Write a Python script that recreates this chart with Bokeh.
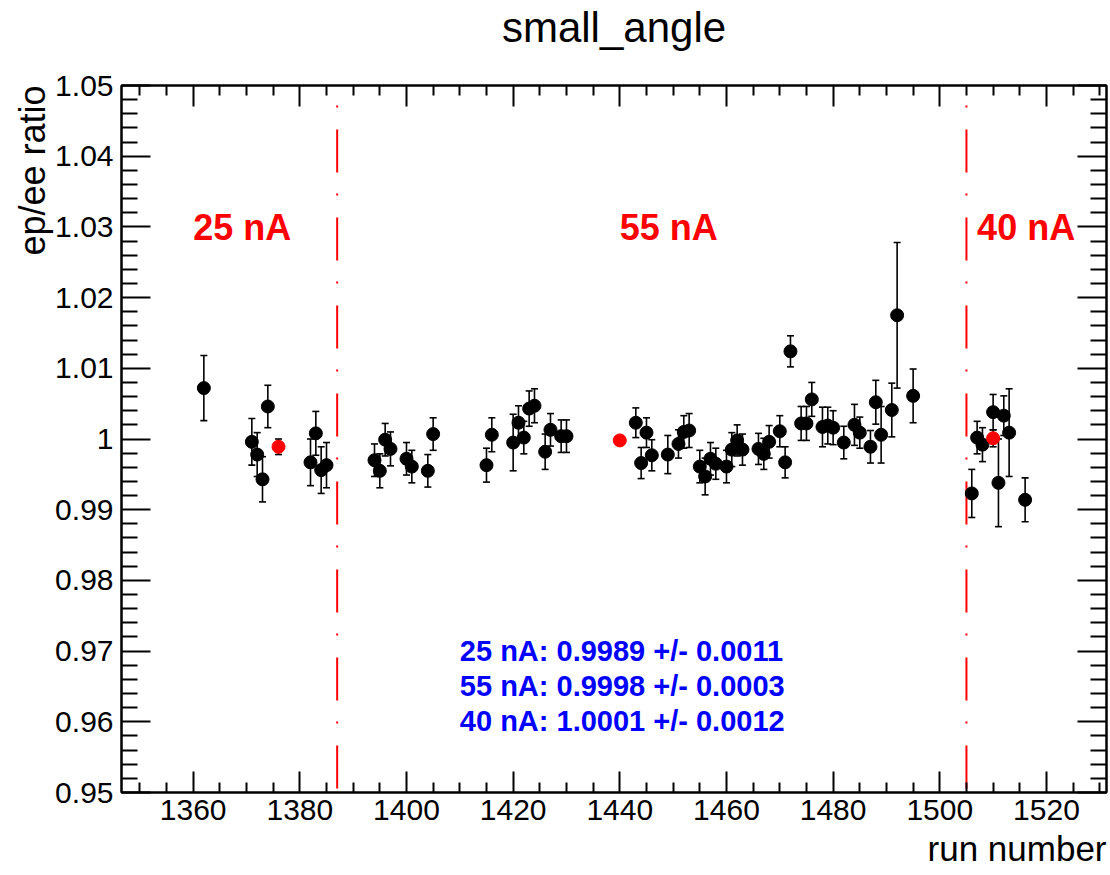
import numpy as np
from bokeh.plotting import figure
from bokeh.models import (Range1d, FixedTicker, LinearAxis, Label, Title,
                          CustomJSTickFormatter, ColumnDataSource)
from bokeh.embed import file_html
from bokeh.resources import INLINE

# ---------------- data ----------------
runs = [1362, 1371, 1372, 1373, 1374, 1382, 1383, 1384, 1385,
        1394, 1395, 1396, 1397, 1400, 1401, 1404, 1405,
        1415, 1416, 1420, 1421, 1422, 1423, 1424, 1426, 1427, 1429, 1430,
        1443, 1444, 1445, 1446, 1449, 1451, 1452, 1453, 1455, 1456, 1457, 1458,
        1460, 1461, 1462, 1463, 1466, 1467, 1468, 1470, 1471, 1472, 1474, 1475,
        1476, 1478, 1479, 1480, 1482, 1484, 1485, 1487, 1488, 1489, 1491, 1492,
        1495, 1506, 1507, 1508, 1510, 1511, 1512, 1513, 1516]
ratio = [1.0072, 0.9996, 0.9978, 0.9943, 1.0046, 0.9967, 1.0008, 0.9956, 0.9963,
         0.9970, 0.9955, 0.9999, 0.9986, 0.9972, 0.9961, 0.9955, 1.0007,
         0.9963, 1.0006, 0.9995, 1.0023, 1.0002, 1.0043, 1.0047, 0.9982, 1.0013, 1.0004, 1.0004,
         1.0023, 0.9966, 1.0009, 0.9977, 0.9978, 0.9993, 1.0010, 1.0012, 0.9961, 0.9947, 0.9972, 0.9965,
         0.9961, 0.9985, 0.9998, 0.9985, 0.9986, 0.9979, 0.9996, 1.0011, 0.9967, 1.0124, 1.0022, 1.0022,
         1.0056, 1.0017, 1.0019, 1.0016, 0.9995, 1.0020, 1.0009, 0.9989, 1.0052, 1.0006, 1.0041, 1.0175,
         1.0061, 0.9923, 1.0002, 0.9992, 1.0038, 0.9938, 1.0033, 1.0009, 0.9914]
ratio_err = [0.0046, 0.0033, 0.0031, 0.0032, 0.0030, 0.0033, 0.0031, 0.0033, 0.0032,
             0.0023, 0.0024, 0.0023, 0.0024, 0.0023, 0.0023, 0.0023, 0.0023,
             0.0024, 0.0024, 0.0040, 0.0024, 0.0023, 0.0025, 0.0024, 0.0025, 0.0023, 0.0023, 0.0023,
             0.0021, 0.0022, 0.0021, 0.0022, 0.0027, 0.0020, 0.0023, 0.0024, 0.0023, 0.0026, 0.0023, 0.0022,
             0.0023, 0.0024, 0.0022, 0.0022, 0.0022, 0.0022, 0.0023, 0.0022, 0.0022, 0.0022, 0.0024, 0.0024,
             0.0024, 0.0028, 0.0026, 0.0024, 0.0023, 0.0029, 0.0022, 0.0023, 0.0031, 0.0040, 0.0038, 0.0103,
             0.0038, 0.0034, 0.0023, 0.0024, 0.0025, 0.0062, 0.0028, 0.0062, 0.0031]

currents = ["25 nA", "55 nA", "40 nA"]
avg_runs = [1376, 1440, 1510]
avg_ratio = [0.9989, 0.9998, 1.0001]
avg_err = [0.0011, 0.0003, 0.0012]
current_label_runs = [1360, 1440, 1507]
boundaries = [1387, 1505]

x_ticks = [1360, 1380, 1400, 1420, 1440, 1460, 1480, 1500, 1520]
x_tick_labels = ["1360", "1380", "1400", "1420", "1440", "1460", "1480", "1500", "1520"]
y_ticks = [0.95, 0.96, 0.97, 0.98, 0.99, 1.0, 1.01, 1.02, 1.03, 1.04, 1.05]
y_tick_labels = ["0.95", "0.96", "0.97", "0.98", "0.99", "1", "1.01", "1.02", "1.03", "1.04", "1.05"]

title_text = "small_angle"
x_title = "run number"
y_title = "ep/ee ratio"

# ---------------- layout ----------------
FONT = "Liberation Sans"
X0, X1 = 1346.56, 1531.26
Y0, Y1 = 0.95, 1.05

p = figure(width=1110, height=875, output_backend="svg", toolbar_location=None,
           x_range=Range1d(X0, X1), y_range=Range1d(Y0, Y1),
           min_border_left=121, min_border_right=4, min_border_top=85, min_border_bottom=81,
           x_axis_type=None, y_axis_type=None)
p.background_fill_color = "white"
p.border_fill_color = "white"
p.outline_line_color = "black"
p.outline_line_width = 2

p.title.text = title_text
p.title.align = "center"
p.title.text_font = FONT
p.title.text_font_size = "42px"
p.title.text_font_style = "normal"
p.title.text_color = "black"
p.title.standoff = 0
p.title.offset = 3

x_minor = [v for v in range(1350, 1535, 5) if v not in x_ticks]
y_minor = [round(0.95 + 0.002 * k, 3) for k in range(51)]
y_minor = [v for v in y_minor if all(abs(v - t) > 1e-9 for t in y_ticks)]
xt = FixedTicker(ticks=x_ticks, minor_ticks=x_minor)
yt = FixedTicker(ticks=y_ticks, minor_ticks=y_minor)
blank = CustomJSTickFormatter(code="return ''")
spacer_fmt = CustomJSTickFormatter(code="return ' '")


def style_axis(ax, major_in, minor_in):
    ax.axis_line_color = "black"
    ax.axis_line_width = 2
    ax.major_tick_in = major_in
    ax.major_tick_out = 0
    ax.minor_tick_in = minor_in
    ax.minor_tick_out = 0
    ax.major_tick_line_width = 2
    ax.minor_tick_line_width = 2
    ax.major_tick_line_color = "black"
    ax.minor_tick_line_color = "black"
    ax.major_label_text_font = FONT
    ax.major_label_text_color = "black"


xb = LinearAxis(ticker=xt, major_label_overrides=dict(zip(x_ticks, x_tick_labels)))
style_axis(xb, 21, 10)
xb.major_label_text_font_size = "30px"
xb.major_label_standoff = 7
p.add_layout(xb, "below")

xtop = LinearAxis(ticker=xt, formatter=spacer_fmt)
style_axis(xtop, 21, 10)
xtop.major_label_standoff = 31
xtop.major_label_text_font_size = "1px"
p.add_layout(xtop, "above")

yl = LinearAxis(ticker=yt, major_label_overrides=dict(zip(y_ticks, y_tick_labels)))
style_axis(yl, 29, 16)
yl.major_label_text_font_size = "30px"
yl.major_label_standoff = 8
p.add_layout(yl, "left")

yr = LinearAxis(ticker=yt, formatter=blank)
style_axis(yr, 29, 16)
yr.major_label_standoff = 0
yr.major_label_text_font_size = "1px"
p.add_layout(yr, "right")

p.add_layout(Title(text=x_title, align="right", vertical_align="top", text_font=FONT,
                   text_font_size="35px", text_font_style="normal", text_color="black",
                   standoff=12), "below")
p.add_layout(Title(text=y_title, align="right", text_font=FONT, text_font_size="36px",
                   text_font_style="normal", text_color="black", standoff=0), "left")

p.xgrid.ticker = xt
p.ygrid.ticker = yt
for g in (p.xgrid, p.ygrid):
    g.grid_line_color = "black"
    g.grid_line_width = 1.2
    g.grid_line_dash = "2 4"

# run boundaries (red dash-dot)
p.segment(x0=boundaries, y0=[Y1] * len(boundaries), x1=boundaries, y1=[Y0] * len(boundaries),
          line_color="#ff0000", line_width=2, line_dash="43 21 2 22", line_dash_offset=44)

# error bars
runs_a = np.array(runs, dtype=float)
r_a = np.array(ratio)
e_a = np.array(ratio_err)
src = ColumnDataSource(dict(x=runs_a, y=r_a, lo=r_a - e_a, hi=r_a + e_a))
p.segment(x0="x", y0="lo", x1="x", y1="hi", source=src, line_color="black", line_width=1.6)
p.scatter(x="x", y="hi", source=src, marker="dash", size=7, line_color="black", line_width=1.6)
p.scatter(x="x", y="lo", source=src, marker="dash", size=7, line_color="black", line_width=1.6)

ar = np.array(avg_ratio)
ae = np.array(avg_err)
asrc = ColumnDataSource(dict(x=avg_runs, y=ar, lo=ar - ae, hi=ar + ae))
p.segment(x0="x", y0="lo", x1="x", y1="hi", source=asrc, line_color="black", line_width=1.6)
p.scatter(x="x", y="hi", source=asrc, marker="dash", size=7, line_color="black", line_width=1.6)
p.scatter(x="x", y="lo", source=asrc, marker="dash", size=7, line_color="black", line_width=1.6)

# markers
p.scatter(x="x", y="y", source=src, marker="circle", size=13, fill_color="black", line_color="black")
p.scatter(x="x", y="y", source=asrc, marker="circle", size=13, fill_color="#ff0000", line_color="#ff0000")

# current labels
for lab, xr in zip(currents, current_label_runs):
    p.add_layout(Label(x=xr, y=1.0299, text=lab, text_font=FONT, text_font_size="36px",
                       text_font_style="bold", text_color="#ff0000",
                       text_align="left", text_baseline="alphabetic"))

# summary text
summary_y = [0.97003, 0.96509, 0.96015]
for lab, v, e, yy in zip(currents, avg_ratio, avg_err, summary_y):
    p.add_layout(Label(x=1410, y=yy, text=f"{lab}: {v:.4f} +/- {e:.4f}", text_font=FONT,
                       text_font_size="29px", text_font_style="bold", text_color="#0000ff",
                       text_align="left", text_baseline="alphabetic"))

open("out.html", "w").write(file_html(p, INLINE))
